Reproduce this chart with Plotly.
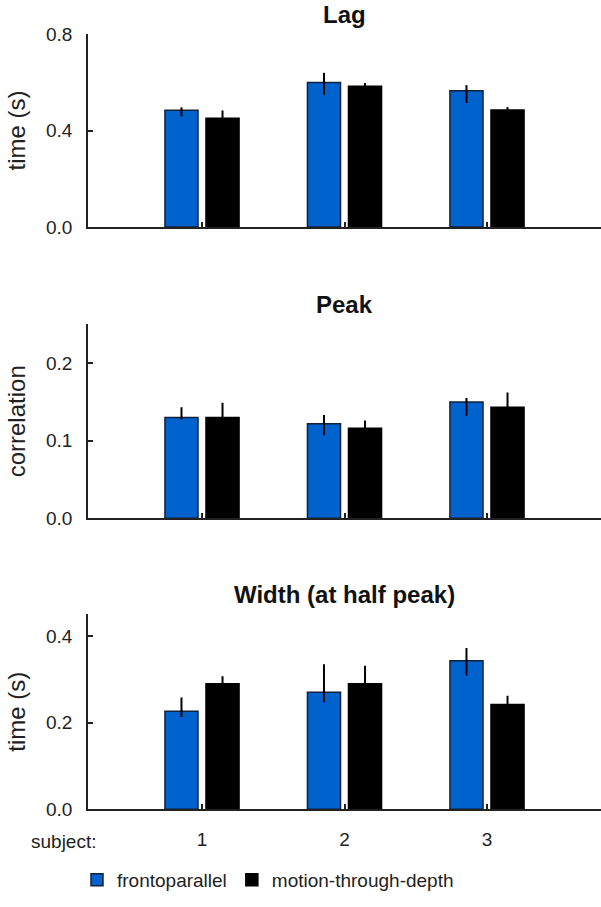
import plotly.graph_objects as go

subjects = [1, 2, 3]
subject_labels = ["1", "2", "3"]
series_names = ["frontoparallel", "motion-through-depth"]

# Lag (s)
lag_fp = [0.484, 0.599, 0.565]
lag_fp_up = [0.012, 0.040, 0.023]
lag_fp_dn = [0.026, 0.051, 0.051]
lag_md = [0.451, 0.583, 0.485]
lag_md_up = [0.032, 0.014, 0.012]

# Peak (correlation)
peak_fp = [0.130, 0.122, 0.150]
peak_fp_up = [0.013, 0.011, 0.005]
peak_fp_dn = [0.003, 0.015, 0.018]
peak_md = [0.130, 0.116, 0.143]
peak_md_up = [0.019, 0.010, 0.019]

# Width at half peak (s)
width_fp = [0.226, 0.270, 0.343]
width_fp_up = [0.032, 0.065, 0.029]
width_fp_dn = [0.013, 0.023, 0.034]
width_md = [0.290, 0.290, 0.242]
width_md_up = [0.017, 0.041, 0.020]

BLUE = "#0062CC"
FONT = "Liberation Sans, Arial, Helvetica, sans-serif"
H = 907

panels = [
    dict(title="Lag", ytitle="time (s)", fp=lag_fp, fpu=lag_fp_up, fpd=lag_fp_dn,
         md=lag_md, mdu=lag_md_up, yr=[0, 0.8], yt=[0, 0.4, 0.8], top=34, bot=227),
    dict(title="Peak", ytitle="correlation", fp=peak_fp, fpu=peak_fp_up, fpd=peak_fp_dn,
         md=peak_md, mdu=peak_md_up, yr=[0, 0.25], yt=[0, 0.1, 0.2], top=324.3, bot=518.3),
    dict(title="Width (at half peak)", ytitle="time (s)", fp=width_fp, fpu=width_fp_up, fpd=width_fp_dn,
         md=width_md, mdu=width_md_up, yr=[0, 0.45], yt=[0, 0.2, 0.4], top=614.3, bot=809.3),
]

fig = go.Figure()
layout = dict(
    width=601, height=H,
    margin=dict(l=88, r=0, t=0, b=0, autoexpand=False),
    paper_bgcolor="white", plot_bgcolor="white",
    font=dict(family=FONT, size=18, color="#222"),
    barmode="group", bargap=0.424, bargroupgap=0.194,
    showlegend=True,
    legend=dict(orientation="h", x=(268 - 88) / 513, xanchor="center", y=1 - 880 / H, yanchor="middle",
                font=dict(size=19, color="#222"), itemwidth=30, traceorder="normal"),
)
annotations = []
for i, p in enumerate(panels):
    n = "" if i == 0 else str(i + 1)
    xa = "x" + n
    ya = "y" + n
    fig.add_trace(go.Bar(
        x=subjects, y=p["fp"], name=series_names[0], marker=dict(color=BLUE, line=dict(color="#14213a", width=1.5)),
        error_y=dict(type="data", symmetric=False, array=p["fpu"], arrayminus=p["fpd"],
                     color="black", thickness=2, width=0),
        xaxis=xa, yaxis=ya, showlegend=(i == 0), legendgroup="fp"))
    fig.add_trace(go.Bar(
        x=subjects, y=p["md"], name=series_names[1], marker=dict(color="black", line=dict(color="black", width=1.5)),
        error_y=dict(type="data", symmetric=False, array=p["mdu"], arrayminus=p["mdu"],
                     color="black", thickness=2, width=0),
        xaxis=xa, yaxis=ya, showlegend=(i == 0), legendgroup="md"))
    d0 = 1 - p["bot"] / H
    d1 = 1 - p["top"] / H
    last = (i == 2)
    layout["xaxis" + n] = dict(
        domain=[0, 1], anchor=ya, range=[0.2, 3.8], tickvals=subjects, ticktext=subject_labels,
        showticklabels=last, ticks="inside", ticklen=5, tickwidth=1.5, tickcolor="#222",
        showline=True, linecolor="#222", linewidth=1.8, showgrid=False, zeroline=False,
        tickfont=dict(size=19, color="#222"), ticklabelstandoff=12, automargin=False, fixedrange=True)
    layout["yaxis" + n] = dict(
        domain=[d0, d1], anchor=xa, range=p["yr"], tickvals=p["yt"], tickformat=".1f",
        ticks="inside", ticklen=5, tickwidth=1.5, tickcolor="#222",
        showline=True, linecolor="#222", linewidth=1.5, showgrid=False, zeroline=False,
        tickfont=dict(size=19, color="#222"), ticklabelstandoff=10, automargin=False,
        title=dict(text=p["ytitle"], font=dict(size=24, color="#222"), standoff=14))
    annotations.append(dict(
        text="<b>" + p["title"] + "</b>", xref="paper", yref="paper",
        x=0.5, y=d1 + 20 / H, xanchor="center", yanchor="middle", showarrow=False,
        font=dict(size=24, color="#111")))

annotations.append(dict(
    text="subject:", xref="paper", yref="paper", x=(98 - 88) / 513, y=1 - 841 / H,
    xanchor="right", yanchor="middle", showarrow=False, font=dict(size=19, color="#222")))
layout["annotations"] = annotations
fig.update_layout(**layout)
fig.write_html("out.html", config={"displayModeBar": False},
               post_script="document.body.style.margin='0px';")
